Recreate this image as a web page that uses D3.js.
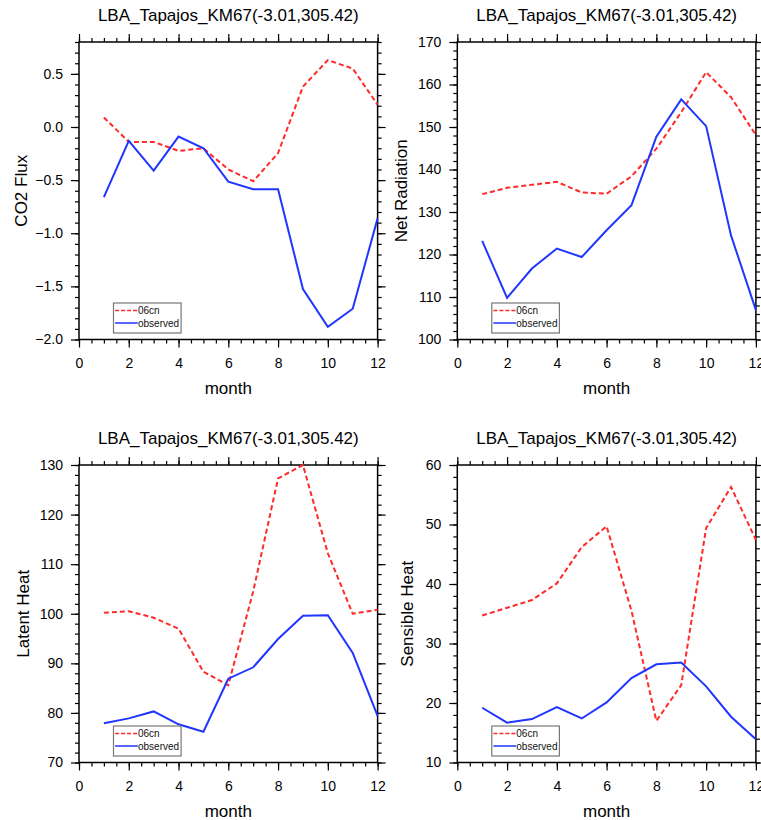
<!DOCTYPE html>
<html><head><meta charset="utf-8">
<script src="https://cdn.jsdelivr.net/npm/d3@7"></script>
<style>body{margin:0;background:#fff}svg{display:block}text{font-family:"Liberation Sans",Arial,Helvetica,sans-serif}</style>
</head><body>
<script>
const months = [1,2,3,4,5,6,7,8,9,10,11,12];
const title = "LBA_Tapajos_KM67(-3.01,305.42)";
const seriesNames = ["06cn","observed"];
const xTicks = [0,2,4,6,8,10,12];

const co2Model = [0.09,-0.14,-0.14,-0.225,-0.2,-0.4,-0.51,-0.245,0.38,0.63,0.55,0.21];
const co2Obs   = [-0.66,-0.13,-0.41,-0.09,-0.2,-0.515,-0.585,-0.585,-1.525,-1.88,-1.71,-0.86];
const co2Ticks = [-2.0,-1.5,-1.0,-0.5,0.0,0.5];

const rnModel = [134.2,135.7,136.4,137.1,134.6,134.3,138.4,144.9,153.5,162.9,157.0,148.1];
const rnObs   = [123.2,109.8,116.7,121.4,119.4,125.7,131.6,147.7,156.5,150.2,124.5,106.9];
const rnTicks = [100,110,120,130,140,150,160,170];

const leModel = [100.2,100.5,99.2,97.0,88.3,85.6,104.5,127.3,130.0,112.2,100.0,100.8];
const leObs   = [77.9,78.9,80.3,77.7,76.2,86.9,89.2,94.9,99.6,99.7,92.1,79.4];
const leTicks = [70,80,90,100,110,120,130];

const shModel = [34.7,36.0,37.3,40.1,46.2,49.7,35.5,17.0,23.0,49.4,56.3,47.4];
const shObs   = [19.2,16.7,17.3,19.3,17.4,20.1,24.2,26.5,26.8,22.8,17.7,13.9];
const shTicks = [10,20,30,40,50,60];

const panels = [
  {ylabel:"CO2 Flux", model:co2Model, obs:co2Obs, domain:[-2.0,0.8], ticks:co2Ticks, minor:0.1, fmt:d3.format(".1f"), left:79, top:42, labelX:21},
  {ylabel:"Net Radiation", model:rnModel, obs:rnObs, domain:[100,170], ticks:rnTicks, minor:2, fmt:d3.format("d"), left:457.3, top:42, labelX:401},
  {ylabel:"Latent Heat", model:leModel, obs:leObs, domain:[70,130], ticks:leTicks, minor:2, fmt:d3.format("d"), left:79, top:465, labelX:23},
  {ylabel:"Sensible Heat", model:shModel, obs:shObs, domain:[10,60], ticks:shTicks, minor:2, fmt:d3.format("d"), left:457.3, top:465, labelX:407}
];
const W = 298.6, H = 297.5;

const svg = d3.select("body").append("svg").attr("width",761).attr("height",820);

function range(a,b,s){const r=[];for(let v=a;v<=b+1e-9;v+=s)r.push(+v.toFixed(6));return r;}

panels.forEach(p=>{
  const g = svg.append("g").attr("transform",`translate(${p.left},${p.top})`);
  const x = d3.scaleLinear().domain([0,12]).range([0,W]);
  const y = d3.scaleLinear().domain(p.domain).range([H,0]);
  const xMinor = range(0,12,0.5);
  const yMinor = range(p.domain[0],p.domain[1],p.minor);

  function axes(axisFn, scale, ticks, size, pos, labels, fmt){
    const a = g.append("g").attr("transform",pos)
      .call(axisFn(scale).tickValues(ticks).tickSize(size).tickSizeOuter(0).tickFormat(labels?fmt:""));
    a.select(".domain").remove();
    a.selectAll("line").attr("stroke","#000").attr("stroke-width",1.2);
    a.selectAll("text").attr("fill","#000").style("font-size","14px");
    return a;
  }
  // minor
  axes(d3.axisBottom,x,xMinor,4,`translate(0,${H})`,false);
  axes(d3.axisTop,x,xMinor,4,`translate(0,0)`,false);
  axes(d3.axisLeft,y,yMinor,4,`translate(0,0)`,false);
  axes(d3.axisRight,y,yMinor,4,`translate(${W},0)`,false);
  // major
  const bx = axes(d3.axisBottom,x,xTicks,8,`translate(0,${H})`,true,d3.format("d"));
  bx.selectAll("text").attr("y",23.5).attr("dy","0.35em");
  axes(d3.axisTop,x,xTicks,8,`translate(0,0)`,false);
  const ly = axes(d3.axisLeft,y,p.ticks,8,`translate(0,0)`,true,p.fmt);
  ly.selectAll("text").attr("x",-16);
  axes(d3.axisRight,y,p.ticks,8,`translate(${W},0)`,false);

  g.append("rect").attr("width",W).attr("height",H).attr("fill","none").attr("stroke","#000").attr("stroke-width",1.5);

  const line = d3.line().x((d,i)=>x(months[i])).y(d=>y(d));
  g.append("path").datum(p.model).attr("d",line).attr("fill","none").attr("stroke","#ff2a2a").attr("stroke-width",2).attr("stroke-dasharray","5,3");
  g.append("path").datum(p.obs).attr("d",line).attr("fill","none").attr("stroke","#2036ff").attr("stroke-width",2);

  // title
  svg.append("text").attr("x",p.left+W/2).attr("y",p.top-21).attr("text-anchor","middle").style("font-size","17px").attr("fill","#000").text(title);
  // x label
  svg.append("text").attr("x",p.left+W/2).attr("y",p.top+H+54).attr("text-anchor","middle").style("font-size","17px").attr("fill","#000").text("month");
  // y label
  svg.append("text").attr("transform",`translate(${p.labelX},${p.top+H/2}) rotate(-90)`).attr("text-anchor","middle").attr("dy","0.35em").style("font-size","17px").attr("fill","#000").text(p.ylabel);

  // legend
  const lg = g.append("g").attr("transform",`translate(34.5,${H-36.5})`);
  lg.append("rect").attr("width",67.6).attr("height",30).attr("fill","#fff").attr("stroke","#777").attr("stroke-width",1.2);
  const styles=[{c:"#ff2a2a",d:"4,2"},{c:"#2036ff",d:null}];
  seriesNames.forEach((n,i)=>{
    const yy = 7.5+i*12.5;
    lg.append("line").attr("x1",1.6).attr("x2",24.3).attr("y1",yy).attr("y2",yy).attr("stroke",styles[i].c).attr("stroke-width",1.5).attr("stroke-dasharray",styles[i].d);
    lg.append("text").attr("x",24.5).attr("y",yy).attr("dy","0.35em").style("font-size","10px").attr("fill","#111").text(n);
  });
});
</script>
</body></html>
